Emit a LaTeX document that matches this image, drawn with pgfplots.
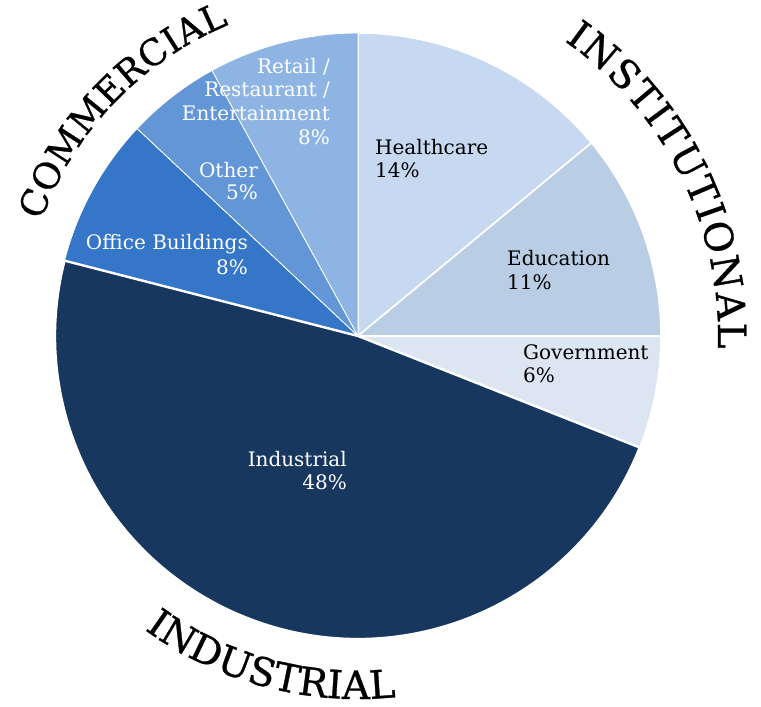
\documentclass[border=0pt]{standalone}
\usepackage{pgfplots}
\pgfplotsset{compat=1.18}
\usepackage{pgfplotstable}
\usepackage{fontspec}
\setmainfont{DejaVu Serif}
\newfontfamily\bigfont[FakeBold=0.8]{DejaVu Serif}
\usetikzlibrary{decorations.text}

\definecolor{cHealth}{HTML}{C6D9F0}
\definecolor{cEdu}{HTML}{B9CDE4}
\definecolor{cGov}{HTML}{DCE6F2}
\definecolor{cInd}{HTML}{17375E}
\definecolor{cOff}{HTML}{3576C8}
\definecolor{cOth}{HTML}{6396D6}
\definecolor{cRet}{HTML}{8DB4E2}

\pgfplotstableread{
sector value
Healthcare 14
Education 11
Government 6
Industrial 48
Office 8
Other 5
Retail 8
}\piedata

\newcommand\lbl{\fontsize{20}{24}\selectfont}
\newcommand\sector[4]{%
  \path[fill=#1, draw=white, line width=#4, line join=round]
    (axis cs:358,371) -- ([shift={(#2:303pt)}]axis cs:358,371)
    arc[start angle=#2, end angle=#3, radius=303pt] -- cycle;}

\begin{document}
\begin{tikzpicture}
\pgfplotstablegetelem{0}{value}\of\piedata \let\vA\pgfplotsretval
\pgfplotstablegetelem{1}{value}\of\piedata \let\vB\pgfplotsretval
\pgfplotstablegetelem{2}{value}\of\piedata \let\vC\pgfplotsretval
\pgfplotstablegetelem{3}{value}\of\piedata \let\vD\pgfplotsretval
\pgfplotstablegetelem{4}{value}\of\piedata \let\vE\pgfplotsretval
\pgfplotstablegetelem{5}{value}\of\piedata \let\vF\pgfplotsretval
\pgfplotstablegetelem{6}{value}\of\piedata \let\vG\pgfplotsretval
\pgfmathsetmacro\aA{90}
\pgfmathsetmacro\aB{\aA-3.6*\vA}
\pgfmathsetmacro\aC{\aB-3.6*\vB}
\pgfmathsetmacro\aD{\aC-3.6*\vC}
\pgfmathsetmacro\aE{\aD-3.6*\vD}
\pgfmathsetmacro\aF{\aE-3.6*\vE}
\pgfmathsetmacro\aG{\aF-3.6*\vF}
\pgfmathsetmacro\aH{\aG-3.6*\vG}
\begin{axis}[x=1pt, y=1pt, xmin=0, xmax=761, ymin=0, ymax=707,
  hide axis, clip=false]
\path (axis cs:0,0) rectangle (axis cs:761,707);
\sector{cHealth}{\aA}{\aB}{1.6pt}
\sector{cEdu}{\aB}{\aC}{1.6pt}
\sector{cGov}{\aC}{\aD}{1.6pt}
\sector{cOff}{\aE}{\aF}{0.8pt}
\sector{cOth}{\aF}{\aG}{0.8pt}
\sector{cRet}{\aG}{\aH}{0.8pt}
\sector{cInd}{\aD}{\aE}{2.4pt}

% labels
\node[anchor=base west, inner sep=0, font=\lbl] at (axis cs:375,552) {Healthcare};
\node[anchor=base west, inner sep=0, font=\lbl] at (axis cs:375,529) {14\%};
\node[anchor=base west, inner sep=0, font=\lbl] at (axis cs:507,441) {Education};
\node[anchor=base west, inner sep=0, font=\lbl] at (axis cs:507,417) {11\%};
\node[anchor=base west, inner sep=0, font=\lbl] at (axis cs:523,347) {Government};
\node[anchor=base west, inner sep=0, font=\lbl] at (axis cs:523,324) {6\%};
\node[anchor=base east, inner sep=0, font=\lbl, text=white] at (axis cs:347,240) {Industrial};
\node[anchor=base east, inner sep=0, font=\lbl, text=white] at (axis cs:347,217) {48\%};
\node[anchor=base east, inner sep=0, font=\lbl, text=white] at (axis cs:248,457) {Office Buildings};
\node[anchor=base east, inner sep=0, font=\lbl, text=white] at (axis cs:248,432) {8\%};
\node[anchor=base east, inner sep=0, font=\lbl, text=white] at (axis cs:258,529) {Other};
\node[anchor=base east, inner sep=0, font=\lbl, text=white] at (axis cs:258,507) {5\%};
\node[anchor=base east, inner sep=0, font=\lbl, text=white] at (axis cs:330,633) {Retail /};
\node[anchor=base east, inner sep=0, font=\lbl, text=white] at (axis cs:330,610) {Restaurant /};
\node[anchor=base east, inner sep=0, font=\lbl, text=white] at (axis cs:330,586) {Entertainment};
\node[anchor=base east, inner sep=0, font=\lbl, text=white] at (axis cs:330,562) {8\%};

% curved group labels
\path[decorate, decoration={text along path, text align=fit to path,
   text={|\bigfont\fontsize{39}{39}\selectfont|INDUSTRIAL}}]
  ([shift={(-126:363pt)}]axis cs:358,371) arc[start angle=-126, end angle=-84, radius=363pt];
\path[decorate, decoration={text along path, text align=fit to path,
   text={|\bigfont\fontsize{36}{36}\selectfont|COMMERCIAL}}]
  ([shift={(160:337pt)}]axis cs:358,371) arc[start angle=160, end angle=112.5, radius=337pt];
\path[decorate, decoration={text along path, text align=fit to path,
   text={|\bigfont\fontsize{39}{39}\selectfont|INSTITUTIONAL}}]
  ([shift={(55:360pt)}]axis cs:358,371) arc[start angle=55, end angle=-2, radius=360pt];
\end{axis}
\end{tikzpicture}
\end{document}
